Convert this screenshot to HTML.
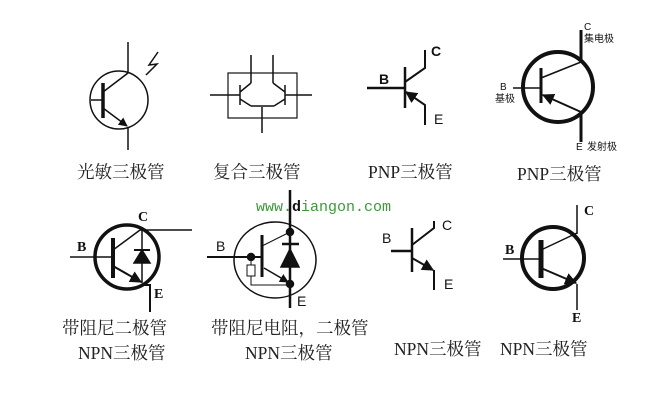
<!DOCTYPE html>
<html><head><meta charset="utf-8"><style>
html,body{margin:0;padding:0;background:#fff;}
svg{display:block}
.cn{font-family:"Liberation Serif","Noto Serif CJK SC",serif;font-size:17.5px;fill:#222}
.lb{font-family:"Liberation Sans",sans-serif;font-size:14px;fill:#111}
.ls{font-family:"Liberation Serif",serif;font-size:14px;font-weight:bold;fill:#111}
.sm{font-family:"Liberation Sans","Noto Sans CJK SC",sans-serif;font-size:10px;fill:#111}
</style></head><body>
<svg width="662" height="410" viewBox="0 0 662 410" xmlns="http://www.w3.org/2000/svg">
<defs>
<marker id="ar" viewBox="0 0 10 10" refX="9" refY="5" markerWidth="6" markerHeight="6" orient="auto"><path d="M0,0 L10,5 L0,10 z" fill="#111"/></marker>
</defs>
<g stroke="#111" fill="none" stroke-width="1.5">
<circle cx="119" cy="100" r="29"/>
<line x1="128" y1="42" x2="128" y2="73"/><line x1="128" y1="127" x2="128" y2="150"/>
<line x1="103" y1="83" x2="103" y2="118" stroke-width="3.5"/>
<line x1="91" y1="100" x2="103" y2="100"/>
<line x1="103" y1="92" x2="128" y2="73"/>
<line x1="103" y1="108" x2="127" y2="126" marker-end="url(#ar)"/>
<polyline points="158,52 149,65 157,64 146,75"/>
<rect x="228" y="73" width="69" height="45" stroke-width="1.2"/>
<line x1="251" y1="55" x2="251" y2="83"/><line x1="273" y1="55" x2="273" y2="83"/>
<line x1="262" y1="107" x2="262" y2="133"/>
<line x1="210" y1="95" x2="240" y2="95"/><line x1="285" y1="95" x2="312" y2="95"/>
<line x1="240" y1="85" x2="240" y2="105"/><line x1="285" y1="85" x2="285" y2="105"/>
<line x1="240" y1="92" x2="251" y2="83"/><line x1="285" y1="92" x2="273" y2="83"/>
<line x1="240" y1="99" x2="251" y2="106"/><line x1="285" y1="99" x2="274" y2="106"/>
<line x1="251" y1="106" x2="274" y2="106"/>
<line x1="367" y1="88" x2="405" y2="88" stroke-width="2.5"/>
<line x1="405" y1="67" x2="405" y2="108" stroke-width="2.5"/>
<polyline points="405,82 425,68 425,50" stroke-width="2"/>
<polyline points="425,125 425,105 406,92" stroke-width="2" marker-end="url(#ar)"/>
<circle cx="558" cy="87" r="35" stroke-width="4"/>
<line x1="581" y1="30" x2="581" y2="62" stroke-width="3"/><line x1="581" y1="112" x2="581" y2="142" stroke-width="3"/>
<line x1="541" y1="68" x2="541" y2="103" stroke-width="3"/>
<line x1="513" y1="88" x2="541" y2="88"/>
<line x1="541" y1="78" x2="581" y2="62"/>
<line x1="581" y1="112" x2="543" y2="95" marker-end="url(#ar)" stroke-width="2"/>
<circle cx="127" cy="257" r="32" stroke-width="3.5"/>
<line x1="70" y1="257" x2="113" y2="257"/>
<line x1="113" y1="238" x2="113" y2="278" stroke-width="4"/>
<line x1="113" y1="250" x2="140" y2="230"/>
<line x1="140" y1="230" x2="192" y2="230"/>
<line x1="142" y1="230" x2="142" y2="283"/>
<line x1="134" y1="250" x2="150" y2="250" stroke-width="2"/>
<polygon points="142,250 134,263 150,263" fill="#111"/>
<line x1="113" y1="266" x2="141" y2="282" marker-end="url(#ar)" stroke-width="2"/>
<polyline points="142,285 150,285 150,312" stroke-width="2"/>
<ellipse cx="275" cy="260" rx="41" ry="38" stroke-width="1.5"/>
<line x1="290" y1="190" x2="290" y2="308" stroke-width="2.5"/>
<line x1="262" y1="235" x2="262" y2="277" stroke-width="3"/>
<line x1="207" y1="257" x2="262" y2="257" stroke-width="2"/>
<line x1="262" y1="246" x2="290" y2="232" stroke-width="1"/>
<line x1="282" y1="244" x2="299" y2="244" stroke-width="2.5"/>
<polygon points="290,249 281,267 299,267" fill="#111"/>
<line x1="264" y1="268" x2="288" y2="282" marker-end="url(#ar)" stroke-width="1.5"/>
<line x1="251" y1="257" x2="251" y2="265" stroke-width="1"/>
<rect x="247" y="265" width="8" height="11" stroke-width="1"/>
<polyline points="251,276 251,285 290,285" stroke-width="1"/>
<circle cx="290" cy="232" r="3.5" fill="#111"/><circle cx="251" cy="257" r="3.5" fill="#111"/><circle cx="290" cy="284" r="3.5" fill="#111"/>
<line x1="391" y1="251" x2="412" y2="251" stroke-width="2.5"/>
<line x1="412" y1="228" x2="412" y2="272" stroke-width="2.5"/>
<polyline points="412,245 434,228 434,221" stroke-width="2"/>
<line x1="412" y1="258" x2="433" y2="270" marker-end="url(#ar)" stroke-width="2"/>
<line x1="434" y1="270" x2="434" y2="290" stroke-width="2"/>
<circle cx="553" cy="258" r="31" stroke-width="4"/>
<line x1="577" y1="205" x2="577" y2="234" stroke-width="1.5"/><line x1="577" y1="284" x2="577" y2="310"/>
<line x1="541" y1="240" x2="541" y2="278" stroke-width="5"/>
<line x1="503" y1="259" x2="541" y2="259"/>
<line x1="541" y1="250" x2="577" y2="233"/>
<line x1="541" y1="268" x2="576" y2="283" marker-end="url(#ar)" stroke-width="2"/>
</g>
<text class="cn" x="77" y="178">光敏三极管</text>
<text class="cn" x="213" y="178">复合三极管</text>
<text class="cn" x="368" y="178">PNP三极管</text>
<text class="cn" x="517" y="180">PNP三极管</text>
<text class="lb" x="379" y="84" font-weight="bold">B</text>
<text class="lb" x="431" y="56" font-weight="bold">C</text>
<text class="lb" x="434" y="124">E</text>
<text class="sm" x="584" y="30">C</text>
<text class="sm" x="584" y="42">集电极</text>
<text class="sm" x="500" y="90">B</text>
<text class="sm" x="495" y="102">基极</text>
<text class="sm" x="576" y="150">E</text>
<text class="sm" x="587" y="150">发射极</text>
<text class="ls" x="138" y="221">C</text>
<text class="ls" x="77" y="251">B</text>
<text class="ls" x="154" y="298">E</text>
<text class="lb" x="216" y="251">B</text>
<text class="lb" x="297" y="306">E</text>
<text x="256" y="211" font-family="Liberation Mono,monospace" font-size="15" fill="#3a9a3a">www.<tspan fill="#111" font-weight="bold">d</tspan>iangon.com</text>
<text class="lb" x="382" y="243" font-size="16">B</text>
<text class="lb" x="442" y="230" font-size="16">C</text>
<text class="lb" x="444" y="289" font-size="16">E</text>
<text class="ls" x="584" y="215">C</text>
<text class="ls" x="505" y="254">B</text>
<text class="ls" x="572" y="322">E</text>
<text class="cn" x="62" y="334">带阻尼二极管</text>
<text class="cn" x="78" y="359">NPN三极管</text>
<text class="cn" x="211" y="334">带阻尼电阻，二极管</text>
<text class="cn" x="245" y="359">NPN三极管</text>
<text class="cn" x="394" y="355">NPN三极管</text>
<text class="cn" x="500" y="355">NPN三极管</text>
</svg>
</body></html>
